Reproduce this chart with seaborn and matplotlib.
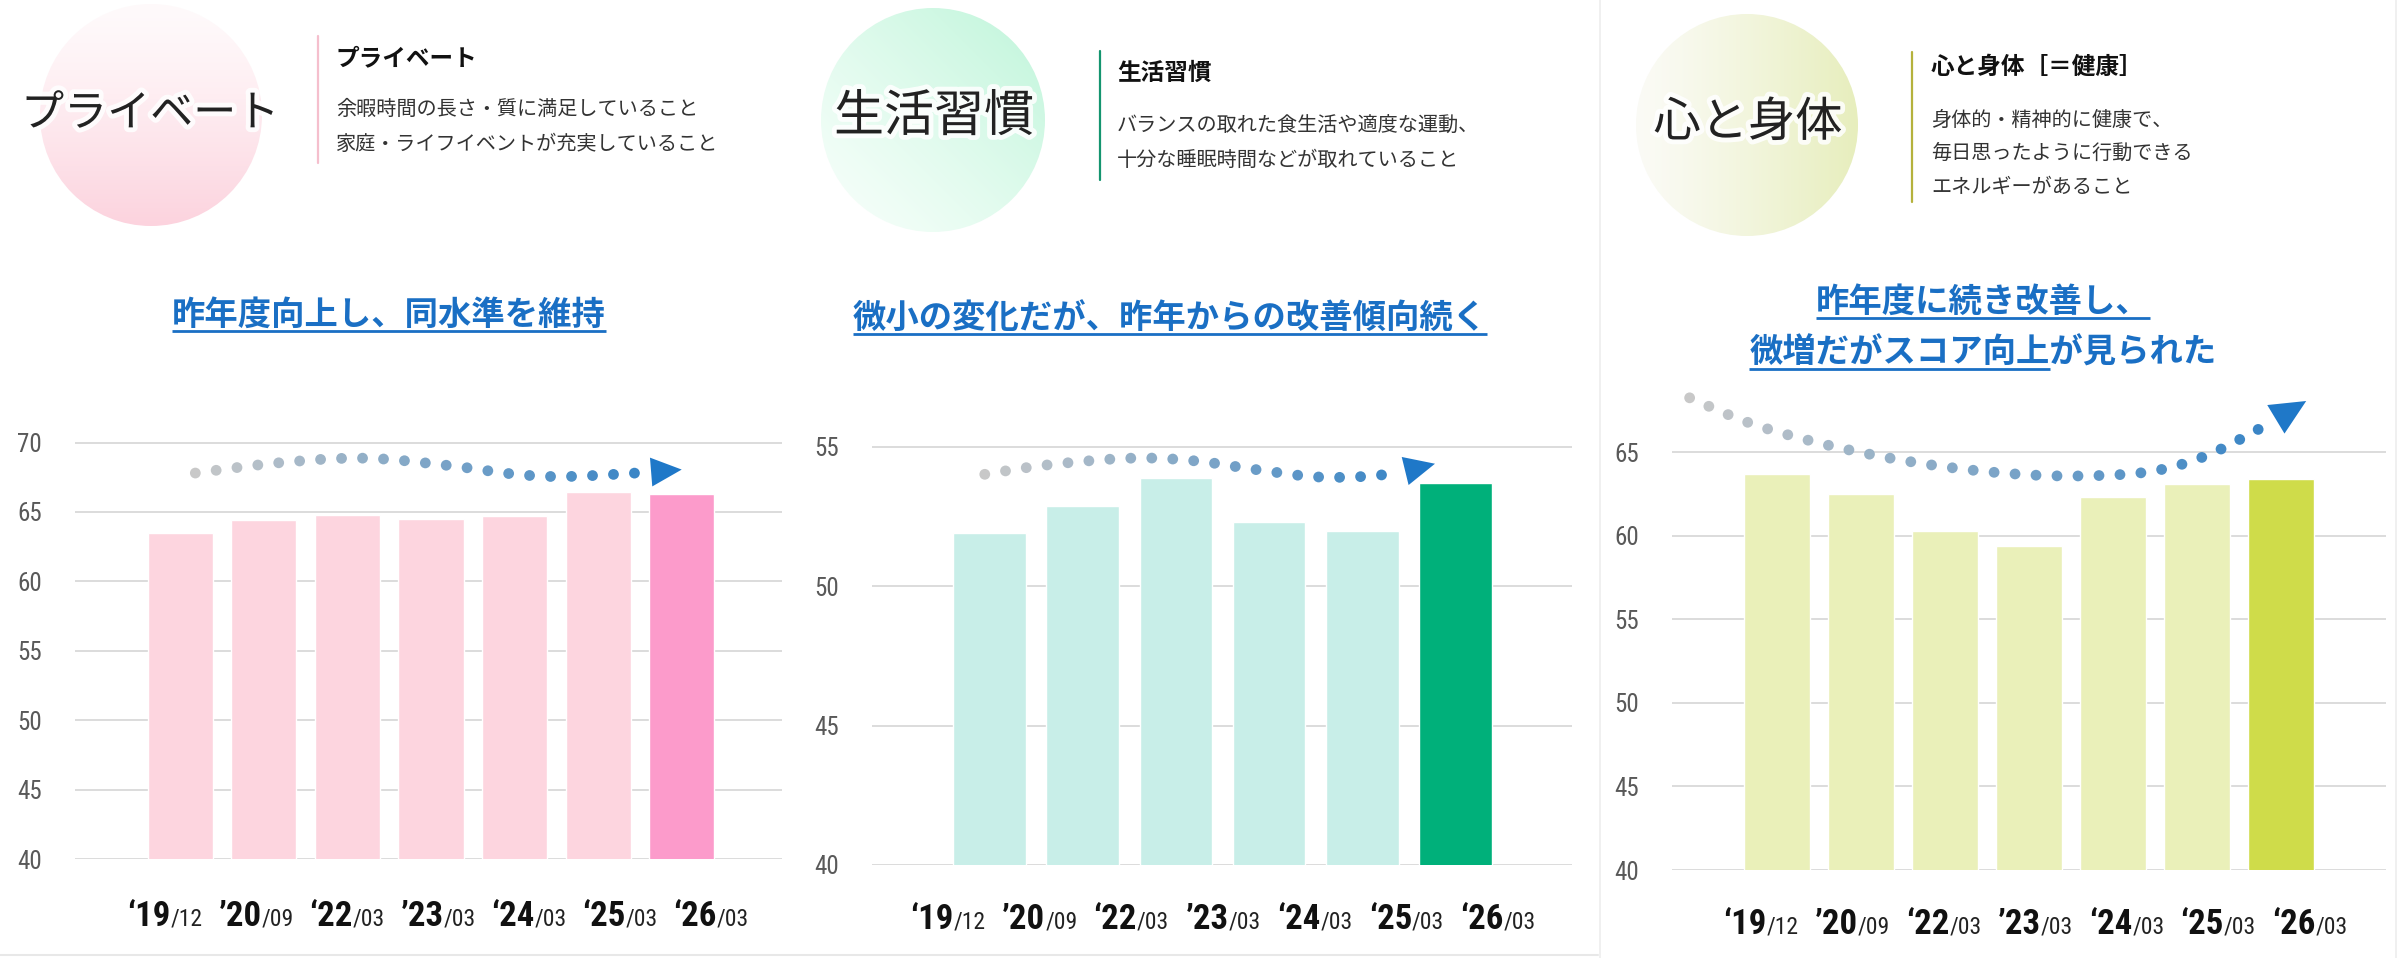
"""
Three-panel score comparison (プライベート / 生活習慣 / 心と身体).
"""

import numpy as np
import matplotlib
matplotlib.use("Agg")  # headless backend
import matplotlib.pyplot as plt
import matplotlib.patheffects as pe
from matplotlib import font_manager
from matplotlib.colors import to_rgb
from matplotlib.patches import Circle
from matplotlib.transforms import blended_transform_factory
import seaborn as sns

W, H = 2400, 958

# ---- data ----
PRIVATE_PERIODS = ["19/12", "20/09", "22/03", "23/03", "24/03", "25/03", "26/03"]
PRIVATE_SCORES = [63.5, 64.4, 64.8, 64.5, 64.7, 66.4, 66.3]

LIFESTYLE_PERIODS = ["19/12", "20/09", "22/03", "23/03", "24/03", "26/03"]
LIFESTYLE_SCORES = [51.9, 52.9, 53.9, 52.3, 52.0, 53.7]

HEALTH_PERIODS = ["19/12", "20/09", "22/03", "23/03", "24/03", "25/03", "26/03"]
HEALTH_SCORES = [63.7, 62.5, 60.3, 59.4, 62.3, 63.1, 63.4]

TICK_YEARS = ["‘19", "’20", "‘22", "’23", "‘24", "‘25", "‘26"]
TICK_MONTHS = ["/12", "/09", "/03", "/03", "/03", "/03", "/03"]

PRIVATE_TICKS = [40, 45, 50, 55, 60, 65, 70]
LIFESTYLE_TICKS = [40, 45, 50, 55]
HEALTH_TICKS = [40, 45, 50, 55, 60, 65]

PRIVATE_TITLE = "プライベート"
PRIVATE_DESC = ["余暇時間の長さ・質に満足していること", "家庭・ライフイベントが充実していること"]
PRIVATE_NOTE = "昨年度向上し、同水準を維持"

LIFESTYLE_TITLE = "生活習慣"
LIFESTYLE_DESC = ["バランスの取れた食生活や適度な運動、", "十分な睡眠時間などが取れていること"]
LIFESTYLE_NOTE = "微小の変化だが、昨年からの改善傾向続く"

HEALTH_TITLE = "心と身体"
HEALTH_HEADING = "心と身体［＝健康］"
HEALTH_DESC = ["身体的・精神的に健康で、", "毎日思ったように行動できる", "エネルギーがあること"]
HEALTH_NOTE = ["昨年度に続き改善し、", "微増だがスコア向上が見られた"]

# trend arrows drawn over the bars (knots in bar-index / score units)
PRIVATE_ARC = [(0.18, 67.8), (1.2, 68.55), (2.2, 68.87), (3.2, 68.35),
               (4.0, 67.72), (4.6, 67.55), (5.45, 67.8), (6.0, 68.05)]
LIFESTYLE_ARC = [(-0.05, 54.02), (0.63, 54.36), (1.53, 54.6), (2.21, 54.5),
                 (2.88, 54.18), (3.56, 53.92), (4.24, 54.01), (4.78, 54.4)]
HEALTH_ARC = [(-1.04, 68.24), (-0.34, 66.76), (0.39, 65.68), (1.12, 64.85),
              (1.86, 64.21), (2.62, 63.77), (3.36, 63.57), (4.12, 63.66),
              (4.62, 64.0), (5.1, 64.76), (5.55, 65.86), (6.0, 67.14), (6.3, 68.05)]

BLUE = "#1a6fc4"
ARROW_BLUE = "#1f78c8"
GRID = "#d9d9d9"


def pick_font(names, fallback="DejaVu Sans"):
    for n in names:
        try:
            font_manager.findfont(n, fallback_to_default=False)
            return n
        except ValueError:
            pass
    return fallback


sns.set_style("white")
plt.rcParams["font.family"] = ["Noto Sans CJK JP", "DejaVu Sans"]
NUM_FONT = pick_font(["Liberation Sans Narrow", "Roboto Condensed", "Roboto"])
LABEL_FONT = pick_font(["Liberation Sans Narrow", "Roboto Condensed", "Roboto"])

fig = plt.figure(figsize=(W / 100, H / 100), dpi=100)
fig.patch.set_facecolor("white")


def px_axes(left, right, y_lo_px, y_hi_px, lo, hi, ymax):
    """Place an axes so that value lo sits at y_lo_px and hi at y_hi_px."""
    ppu = (y_lo_px - y_hi_px) / (hi - lo)
    top = y_lo_px - (ymax - lo) * ppu
    return fig.add_axes([left / W, 1 - y_lo_px / H, (right - left) / W, (y_lo_px - top) / H])


def catmull_rom(p, n=60):
    p = np.vstack([p[0], p, p[-1]])
    out = []
    t = np.linspace(0, 1, n, endpoint=False)[:, None]
    for i in range(1, len(p) - 2):
        p0, p1, p2, p3 = p[i - 1], p[i], p[i + 1], p[i + 2]
        out.append(0.5 * (2 * p1 + (-p0 + p2) * t + (2 * p0 - 5 * p1 + 4 * p2 - p3) * t ** 2
                          + (-p0 + 3 * p1 - 3 * p2 + p3) * t ** 3))
    out.append(p[-2][None])
    return np.vstack(out)


def dotted_arc(ax, knots, spacing=21, head_len=30, head_scale=26):
    pts = ax.transData.transform(np.array(knots))
    dense = catmull_rom(pts)
    s = np.concatenate([[0], np.cumsum(np.hypot(*np.diff(dense, axis=0).T))])
    L = s[-1]
    stops = np.arange(0, L - head_len - 10, spacing)
    dots = np.column_stack([np.interp(stops, s, dense[:, 0]), np.interp(stops, s, dense[:, 1])])
    frac = (stops / L)[:, None]
    gray, blue = np.array(to_rgb("#c8c8c8")), np.array(to_rgb("#2c7fc6"))
    cols = gray * (1 - frac) + blue * frac
    dd = ax.transData.inverted().transform(dots)
    ax.scatter(dd[:, 0], dd[:, 1], s=60, c=cols, linewidths=0, clip_on=False, zorder=6)
    base = np.array([np.interp(L - head_len, s, dense[:, 0]), np.interp(L - head_len, s, dense[:, 1])])
    base = ax.transData.inverted().transform(base[None])[0]
    ax.annotate("", xy=knots[-1], xytext=base, annotation_clip=False,
                arrowprops=dict(arrowstyle="-|>,head_length=0.85,head_width=0.4",
                                mutation_scale=head_scale, fc=ARROW_BLUE, ec=ARROW_BLUE,
                                lw=0, shrinkA=0, shrinkB=0), zorder=7)


def draw_panel(ax, periods, scores, light, dark, yticks, ylim, xlim,
               label_start, label_step, label_drop):
    colors = [light] * (len(scores) - 1) + [dark]
    sns.barplot(x=periods, y=scores, hue=periods, palette=colors, legend=False,
                width=0.78, saturation=1, ax=ax)
    ax.set_ylim(*ylim)
    ax.set_xlim(*xlim)
    ax.set_yticks(yticks, labels=[str(v) for v in yticks], fontfamily=NUM_FONT)
    ax.yaxis.grid(True, color=GRID, lw=1.3)
    ax.set_axisbelow(True)
    sns.despine(ax=ax, left=True, bottom=True)
    ax.tick_params(axis="y", length=0, pad=24, labelsize=18, labelcolor="#595959")
    ax.set_xticks([])
    ax.set_xlabel("")
    ax.set_ylabel("")
    trans = blended_transform_factory(ax.transData, ax.transAxes)
    for i, (yy, mm) in enumerate(zip(TICK_YEARS, TICK_MONTHS)):
        xl = label_start + i * label_step
        ax.annotate(yy, xy=(xl, 0), xycoords=trans, xytext=(4, -label_drop),
                    textcoords="offset points", ha="right", va="baseline",
                    fontsize=25, fontweight="bold", family=LABEL_FONT,
                    color="#111111", annotation_clip=False)
        ax.annotate(mm, xy=(xl, 0), xycoords=trans, xytext=(4, -label_drop),
                    textcoords="offset points", ha="left", va="baseline",
                    fontsize=17, family=LABEL_FONT, color="#222222",
                    annotation_clip=False)


# ---- charts ----
ax1 = px_axes(75, 782, 859, 442.5, 40, 70, 71.2)
draw_panel(ax1, PRIVATE_PERIODS, PRIVATE_SCORES, "#fdd5df", "#fc9bcb",
           PRIVATE_TICKS, (40, 71.2), (-1.26, 7.2), -0.185, 1.09, 48)
dotted_arc(ax1, PRIVATE_ARC)

ax2 = px_axes(872, 1572, 865, 447, 40, 55, 55.5)
draw_panel(ax2, LIFESTYLE_PERIODS, LIFESTYLE_SCORES, "#c8eee8", "#00b07a",
           LIFESTYLE_TICKS, (40, 55.5), (-1.26, 6.25), -0.446, 0.984, 46)
dotted_arc(ax2, LIFESTYLE_ARC)

ax3 = px_axes(1672, 2386, 870, 452, 40, 65, 68.6)
draw_panel(ax3, HEALTH_PERIODS, HEALTH_SCORES, "#eaf0b9", "#cfdc4a",
           HEALTH_TICKS, (40, 68.6), (-1.25, 7.25), -0.195, 1.09, 46)
dotted_arc(ax3, HEALTH_ARC, head_scale=30)

# ---- header overlay (pixel coordinates, origin top-left) ----
ov = fig.add_axes([0, 0, 1, 1])
ov.axis("off")


def gradient_circle(cx, cy, r, c_from, c_to, mode):
    u = np.linspace(0, 1, 256)
    X, Y = np.meshgrid(u, u)
    if mode == "down":
        f = Y ** 1.3
    elif mode == "upright":
        f = np.clip((X + (1 - Y)) / 2, 0, 1) ** 1.2
    else:
        f = X ** 1.2
    c0, c1 = np.array(to_rgb(c_from)), np.array(to_rgb(c_to))
    img = c0 + (c1 - c0) * f[..., None]
    im = ov.imshow(img, extent=(cx - r, cx + r, cy + r, cy - r), aspect="auto",
                   interpolation="bilinear", zorder=0)
    circ = Circle((cx, cy), r, transform=ov.transData, fc="none", ec="none")
    ov.add_patch(circ)
    im.set_clip_path(circ)


gradient_circle(151, 115, 111, "#fffafb", "#fcd3de", "down")
gradient_circle(933, 120, 112, "#f8fffb", "#bff5da", "upright")
gradient_circle(1747, 125, 111, "#fbfbf6", "#e7eebd", "right")
ov.set_xlim(0, W)
ov.set_ylim(H, 0)

glow = [pe.withStroke(linewidth=7, foreground="white", alpha=0.85)]
ov.text(150, 114, PRIVATE_TITLE, ha="center", va="center", fontsize=31,
        color="#222222", path_effects=glow, zorder=3)
ov.text(934, 117, LIFESTYLE_TITLE, ha="center", va="center", fontsize=36,
        color="#222222", path_effects=glow, zorder=3)
ov.text(1748, 123, HEALTH_TITLE, ha="center", va="center", fontsize=34,
        color="#222222", path_effects=glow, zorder=3)

# separator bars
ov.plot([318, 318], [36, 163], color="#f5bfcd", lw=1.6)
ov.plot([1100, 1100], [51, 180], color="#14956f", lw=1.6)
ov.plot([1912, 1912], [52, 202], color="#b5b23c", lw=1.6)

ov.text(336, 58, PRIVATE_TITLE, ha="left", va="center", fontsize=17, fontweight="bold", color="#111111")
for y, line in zip([109, 144], PRIVATE_DESC):
    ov.text(336, y, line, ha="left", va="center", fontsize=14.5, color="#333333")

ov.text(1117, 73, LIFESTYLE_TITLE, ha="left", va="center", fontsize=17, fontweight="bold", color="#111111")
for y, line in zip([125, 160], LIFESTYLE_DESC):
    ov.text(1117, y, line, ha="left", va="center", fontsize=14.5, color="#333333")

ov.text(1931, 67, HEALTH_HEADING, ha="left", va="center", fontsize=17, fontweight="bold", color="#111111")
for y, line in zip([120, 153, 187], HEALTH_DESC):
    ov.text(1931, y, line, ha="left", va="center", fontsize=14.5, color="#333333")

renderer = fig.canvas.get_renderer()


def underlined(x, y, s, part=1.0, size=24):
    t = ov.text(x, y, s, ha="center", va="center", fontsize=size,
                fontweight="bold", color=BLUE)
    bb = t.get_window_extent(renderer=renderer)
    x0, x1 = ov.transData.inverted().transform([[bb.x0, 0], [bb.x1, 0]])[:, 0]
    ov.plot([x0, x0 + (x1 - x0) * part], [y + 16, y + 16], color=BLUE, lw=2.0,
            solid_capstyle="butt")


underlined(389, 315, PRIVATE_NOTE)
underlined(1170, 318, LIFESTYLE_NOTE)
underlined(1983, 302, HEALTH_NOTE[0])
underlined(1983, 353, HEALTH_NOTE[1], part=9 / 14)

# faint panel frame lines
ov.plot([0, 1598], [955, 955], color="#e8e8e8", lw=1.5)
ov.plot([1600, 1600], [0, H], color="#eeeeee", lw=1.2)
ov.plot([2396, 2396], [0, H], color="#eeeeee", lw=1.2)

fig.savefig("out.png", dpi=100, facecolor="white")
